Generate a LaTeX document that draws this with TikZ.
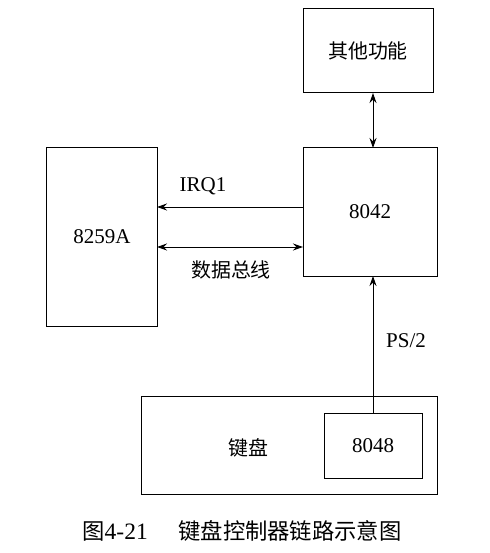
\documentclass[tikz,border=0pt]{standalone}
\usepackage{fontspec}
\setmainfont{Liberation Serif}
\newfontfamily\cjk{Noto Sans CJK SC}[Scale=0.95]
\usetikzlibrary{arrows.meta}
\begin{document}
\begin{tikzpicture}[x=1pt,y=-1pt,
  box/.style={draw,line width=1pt,inner sep=0pt},
  conn/.style={line width=1pt},
  tip/.style={-{Stealth[length=10pt,width=7pt]}},
  tips/.style={{Stealth[length=10pt,width=7pt]}-{Stealth[length=10pt,width=7pt]}},
  lbl/.style={font=\fontsize{21}{25}\selectfont}]
\useasboundingbox (0,0) rectangle (489,553);
% blocks
\node[box,minimum width=130pt,minimum height=84pt] (other) at (368,51) {};
\node[lbl] at (other.center) {\cjk 其他功能};
\node[box,minimum width=134pt,minimum height=128pt] (kbc) at (370,212) {};
\node[lbl] at (kbc.center) {8042};
\node[box,minimum width=111pt,minimum height=178pt] (pic) at (102,237) {};
\node[lbl] at (pic.center) {8259A};
\node[box,minimum width=296pt,minimum height=98pt] (kbd) at (289,445) {};
\node[lbl] at (248,448) {\cjk 键盘};
\node[box,minimum width=98pt,minimum height=65pt] (mcu) at (373,445.5) {};
\node[lbl] at (mcu.center) {8048};
% connection points on the block edges
\coordinate (otherB) at (373,93);
\coordinate (kbcT) at (373,148);
\coordinate (kbcB) at (373,276);
\coordinate (mcuT) at (373,413);
\coordinate (irqR) at (303,207);
\coordinate (irqL) at (157,207);
\coordinate (busL) at (157,247);
\coordinate (busR) at (303,247);
% connectors
\draw[conn,tips] (otherB) -- (kbcT);
\draw[conn,tip] (irqR) -- (irqL);
\draw[conn,tips] (busL) -- (busR);
\draw[conn,tip] (mcuT) -- (kbcB);
% labels
\node[lbl] (irqlbl) at (203,186) {IRQ1};
\node[lbl] (buslbl) at (231,270) {\cjk 数据总线};
\node[lbl] (pslbl) at (406,341) {PS/2};
% caption
\node[font=\fontsize{23.5}{27}\selectfont] (cap) at (242,531) {{\cjk 图}4-21\hspace{1.3em}{\cjk 键盘控制器链路示意图}};
\end{tikzpicture}
\end{document}
